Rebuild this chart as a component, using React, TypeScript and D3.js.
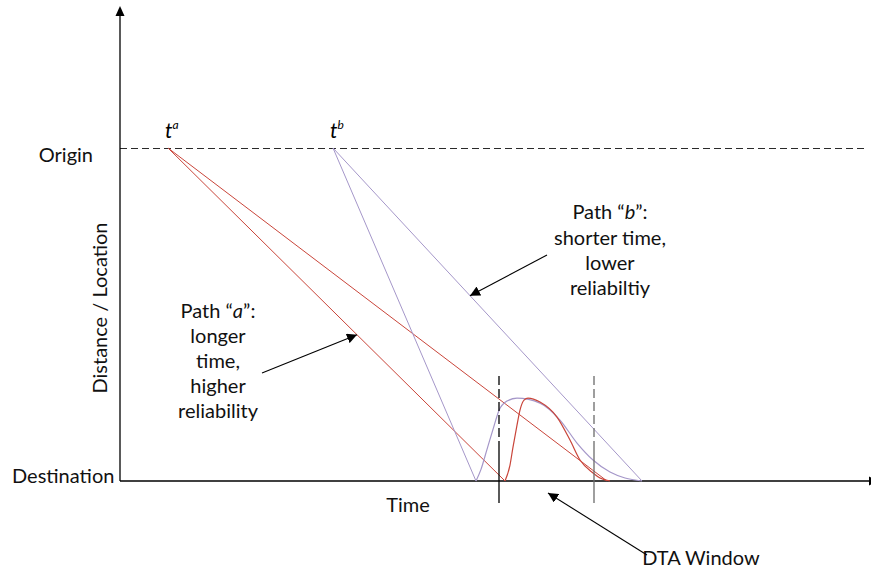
import * as d3 from 'd3'
import { useEffect, useRef } from 'react'

// departure / arrival times (time units) for the two paths
const pathNames = ['a', 'b']
const departTimes = [48, 213]
const arriveEarly = [385, 356]
const arriveLate = [487, 522]
const pathColors = ['#C9453A', '#A597C9']

// DTA window bounds on the time axis
const windowBounds = [379, 474]

// arrival-time distributions (time, height in distance units)
const curveATimes = [385, 390, 393, 397, 400, 404, 408, 420, 437, 450, 460, 473, 480, 490]
const curveAHeights = [0, 0.048, 0.102, 0.168, 0.213, 0.243, 0.249, 0.237, 0.192, 0.123, 0.063, 0.024, 0.009, 0]
const curveBTimes = [356, 361, 367, 373, 379, 387, 397, 420, 440, 457, 473, 490, 505, 522]
const curveBHeights = [0, 0.035, 0.095, 0.155, 0.212, 0.24, 0.249, 0.234, 0.183, 0.114, 0.063, 0.027, 0.009, 0]

const W = 871
const H = 569
const FONT = 'Lato, "Open Sans", sans-serif'

export default function App() {
    const svgRef = useRef(null) as any

    useEffect(() => {
        const svg = d3.select(svgRef.current)
        svg.selectAll('*').remove()

        const x = d3.scaleLinear().domain([0, 750]).range([120, 870])
        const y = d3.scaleLinear().domain([0, 1]).range([481, 148])

        const defs = svg.append('defs')
        defs.append('marker')
            .attr('id', 'head')
            .attr('viewBox', '0 0 10 10')
            .attr('refX', 10).attr('refY', 5)
            .attr('markerWidth', 10).attr('markerHeight', 10)
            .attr('markerUnits', 'userSpaceOnUse')
            .attr('orient', 'auto')
            .append('path').attr('d', 'M0,0 L10,5 L0,10 Z').attr('fill', '#000')

        // origin dashed line
        svg.append('line')
            .attr('x1', x(0)).attr('x2', x(745))
            .attr('y1', y(1) + 0.5).attr('y2', y(1) + 0.5)
            .attr('stroke', '#2a2a2a').attr('stroke-width', 1)
            .attr('stroke-dasharray', '7,4')

        // axes
        svg.append('line')
            .attr('x1', x(0)).attr('x2', x(0))
            .attr('y1', y(0)).attr('y2', 14)
            .attr('stroke', '#000').attr('stroke-width', 1.3)
        svg.append('path')
            .attr('d', `M${x(0) - 4.5},16 L${x(0)},6 L${x(0) + 4.5},16 Z`)
            .attr('fill', '#000')
        svg.append('line')
            .attr('x1', x(0)).attr('x2', 872)
            .attr('y1', y(0)).attr('y2', y(0))
            .attr('stroke', '#000').attr('stroke-width', 1.3)
        svg.append('path')
            .attr('d', `M869,${y(0) - 4.5} L879,${y(0)} L869,${y(0) + 4.5} Z`)
            .attr('fill', '#000')

        // straight trajectories
        pathNames.forEach((_, i) => {
            ;[arriveEarly[i], arriveLate[i]].forEach((t) => {
                svg.append('line')
                    .attr('x1', x(departTimes[i])).attr('y1', y(1))
                    .attr('x2', x(t)).attr('y2', y(0))
                    .attr('stroke', pathColors[i]).attr('stroke-width', 1)
            })
        })

        // arrival distributions
        const line = d3.line<[number, number]>()
            .x((d) => x(d[0]))
            .y((d) => y(d[1]))
            .curve(d3.curveMonotoneX)
        const curves = [
            { t: curveBTimes, h: curveBHeights, c: pathColors[1] },
            { t: curveATimes, h: curveAHeights, c: pathColors[0] },
        ]
        curves.forEach((cv) => {
            svg.append('path')
                .attr('d', line(cv.t.map((t, j) => [t, cv.h[j]] as [number, number])))
                .attr('fill', 'none')
                .attr('stroke', cv.c)
                .attr('stroke-width', 1.2)
        })

        // DTA window markers
        windowBounds.forEach((t, i) => {
            const col = i === 0 ? '#000' : '#6b6b6b'
            svg.append('line')
                .attr('x1', x(t)).attr('x2', x(t))
                .attr('y1', 376).attr('y2', 445)
                .attr('stroke', col).attr('stroke-width', 1.3)
                .attr('stroke-dasharray', '9,4')
            svg.append('line')
                .attr('x1', x(t)).attr('x2', x(t))
                .attr('y1', 445).attr('y2', 503)
                .attr('stroke', col).attr('stroke-width', 1.3)
        })

        // departure labels
        pathNames.forEach((n, i) => {
            const tx = svg.append('text')
                .attr('x', x(departTimes[i]) - 3)
                .attr('y', 138)
                .attr('font-family', FONT)
                .attr('font-size', 21)
                .attr('font-style', 'italic')
                .attr('fill', '#000')
            tx.append('tspan').text('t')
            tx.append('tspan').attr('dy', -9).attr('font-size', 12).text(n)
        })

        const txt = (s: string, px: number, py: number, anchor = 'middle') =>
            svg.append('text')
                .attr('x', px).attr('y', py)
                .attr('text-anchor', anchor)
                .attr('font-family', FONT)
                .attr('font-size', 20)
                .attr('fill', '#111')
                .text(s)

        txt('Origin', 93, 162, 'end')
        txt('Destination', 12, 483, 'start')
        txt('Time', 408, 512)
        txt('DTA Window', 701, 565)
        svg.append('text')
            .attr('transform', 'translate(107,308) rotate(-90)')
            .attr('text-anchor', 'middle')
            .attr('font-family', FONT)
            .attr('font-size', 20)
            .attr('fill', '#111')
            .text('Distance / Location')

        // annotation text with italic path letter
        const pathLabel = (n: string, px: number, py: number) => {
            const t = svg.append('text')
                .attr('x', px).attr('y', py)
                .attr('text-anchor', 'middle')
                .attr('font-family', FONT)
                .attr('font-size', 20)
                .attr('fill', '#111')
            t.append('tspan').text('Path \u201C')
            t.append('tspan').attr('font-style', 'italic').text(n)
            t.append('tspan').text('\u201D:')
        }
        pathLabel('a', 218, 318)
        ;['longer', 'time,', 'higher', 'reliability'].forEach((s, i) => txt(s, 218, 343 + i * 25))
        pathLabel('b', 610, 219)
        ;['shorter time,', 'lower', 'reliabiltiy'].forEach((s, i) => txt(s, 610, 245 + i * 25))

        // pointer arrows, tips placed on the trajectories
        const onPath = (i: number, arrive: number, t: number) =>
            [x(t), y(1 - (t - departTimes[i]) / (arrive - departTimes[i]))]
        const tipA = onPath(0, arriveEarly[0], 237)
        const tipB = onPath(1, arriveLate[1], 350)
        const arrows = [
            [262, 373, tipA[0], tipA[1]],
            [547, 255, tipB[0], tipB[1]],
            [647, 555, 548, 493],
        ]
        arrows.forEach((a) => {
            svg.append('line')
                .attr('x1', a[0]).attr('y1', a[1])
                .attr('x2', a[2]).attr('y2', a[3])
                .attr('stroke', '#000').attr('stroke-width', 1.1)
                .attr('marker-end', 'url(#head)')
        })
    }, [])

    return (
        <svg ref={svgRef} width={W} height={H}
            style={{ position: 'absolute', left: 0, top: 0, background: '#fff' }} />
    )
}
